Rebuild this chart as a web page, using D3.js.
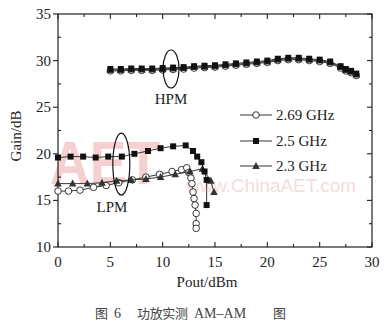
<!DOCTYPE html>
<html>
<head>
<meta charset="utf-8">
<script src="https://cdn.jsdelivr.net/npm/d3@7"></script>
<style>
  body { margin: 0; background: #fff; }
  svg { display: block; font-family: "Liberation Serif", "Times New Roman", serif; }
</style>
</head>
<body>
<svg id="chart" width="392" height="326"></svg>
<script>
// data
const xTicks = [0, 5, 10, 15, 20, 25, 30]
const yTicks = [10, 15, 20, 25, 30, 35]

// high power mode (HPM)
const hpmX = [5, 6, 7, 8, 9, 10, 11, 12, 13, 14, 15, 16, 17, 18, 19, 20, 21, 22, 23, 24, 25, 26, 27, 27.5, 28, 28.5]
const hpm269 = [28.9, 28.9, 28.95, 28.95, 28.95, 29.0, 29.05, 29.1, 29.2, 29.25, 29.3, 29.4, 29.5, 29.6, 29.7, 29.8, 30.0, 30.1, 30.1, 30.0, 29.9, 29.7, 29.2, 28.9, 28.7, 28.4]
const hpm25 = [29.1, 29.1, 29.15, 29.15, 29.15, 29.2, 29.25, 29.3, 29.4, 29.45, 29.5, 29.6, 29.7, 29.8, 29.9, 30.0, 30.2, 30.3, 30.3, 30.2, 30.1, 29.9, 29.4, 29.1, 28.9, 28.6]
const hpm23 = [29.0, 29.0, 29.05, 29.05, 29.05, 29.1, 29.15, 29.2, 29.3, 29.35, 29.4, 29.5, 29.6, 29.7, 29.8, 29.9, 30.1, 30.2, 30.2, 30.1, 30.0, 29.8, 29.3, 29.0, 28.8, 28.5]

// low power mode (LPM)
const lpm269X = [0, 1.0, 2.1, 3.4, 4.6, 5.8, 7.1, 8.4, 9.7, 10.9, 11.8, 12.3, 12.5, 12.7, 12.8, 12.9, 13.0, 13.1, 13.2, 13.2, 13.2]
const lpm269Y = [16.0, 16.0, 16.1, 16.4, 16.6, 16.9, 17.2, 17.5, 17.8, 18.1, 18.3, 18.5, 18.0, 17.4, 16.8, 15.9, 15.2, 14.5, 13.6, 12.5, 12.0]
const lpm25X = [0, 1.2, 2.4, 3.6, 4.8, 6.1, 7.3, 8.6, 9.8, 11.0, 12.2, 12.9, 13.3, 13.7, 14.0, 14.2, 14.2]
const lpm25Y = [19.6, 19.7, 19.7, 19.6, 19.7, 19.7, 20.0, 20.3, 20.6, 20.8, 20.9, 20.3, 19.7, 19.1, 18.1, 17.2, 14.5]
const lpm23X = [0, 1.4, 2.8, 4.2, 5.6, 7.0, 8.4, 9.8, 11.2, 12.6, 13.8, 14.6, 14.9]
const lpm23Y = [16.8, 16.8, 16.8, 16.9, 17.1, 17.2, 17.3, 17.5, 17.8, 18.1, 18.4, 17.1, 15.9]

const legendNames = ["2.69 GHz", "2.5 GHz", "2.3 GHz"]

const svg = d3.select("#chart")
const pLeft = 58, pRight = 372, pTop = 14, pBottom = 247

const x = d3.scaleLinear().domain([0, 30]).range([pLeft, pRight])
const y = d3.scaleLinear().domain([10, 35]).range([pBottom, pTop])

// watermark, faint
svg.append("text").attr("x", 50).attr("y", 184)
  .attr("font-family", "Liberation Sans").attr("font-weight", "bold").attr("font-size", 62)
  .attr("textLength", 110).attr("lengthAdjust", "spacingAndGlyphs")
  .attr("fill", "#f6d0d0").text("AET")
svg.append("text").attr("x", 186).attr("y", 192)
  .attr("font-family", "Liberation Sans").attr("font-size", 19)
  .attr("textLength", 170).attr("lengthAdjust", "spacingAndGlyphs")
  .attr("fill", "#f3dcdc").text("www.ChinaAET.com")

// frame
svg.append("rect").attr("x", pLeft).attr("y", pTop)
  .attr("width", pRight - pLeft).attr("height", pBottom - pTop)
  .attr("fill", "none").attr("stroke", "#222").attr("stroke-width", 1.2)

const minorX = d3.range(0, 30.1, 2.5)
const minorY = d3.range(10, 35.1, 2.5)
const ticks = svg.append("g").attr("stroke", "#222").attr("stroke-width", 1.1)

minorX.forEach(v => {
  const len = v % 5 === 0 ? 5 : 3
  ticks.append("line").attr("x1", x(v)).attr("x2", x(v)).attr("y1", pBottom).attr("y2", pBottom - len)
  ticks.append("line").attr("x1", x(v)).attr("x2", x(v)).attr("y1", pTop).attr("y2", pTop + len)
})
minorY.forEach(v => {
  const major = v % 5 === 0
  if (major) ticks.append("line").attr("x1", pLeft).attr("x2", pLeft - 5).attr("y1", y(v)).attr("y2", y(v))
  else ticks.append("line").attr("x1", pLeft).attr("x2", pLeft + 3).attr("y1", y(v)).attr("y2", y(v))
  ticks.append("line").attr("x1", pRight).attr("x2", pRight - (major ? 5 : 3)).attr("y1", y(v)).attr("y2", y(v))
})

// tick labels
svg.append("g").selectAll("text").data(xTicks).join("text")
  .attr("x", d => x(d)).attr("y", 267).attr("text-anchor", "middle")
  .attr("font-size", 15).attr("fill", "#222").text(d => d)
svg.append("g").selectAll("text").data(yTicks).join("text")
  .attr("x", 51).attr("y", d => y(d) + 5).attr("text-anchor", "end")
  .attr("font-size", 15).attr("fill", "#222").text(d => d)

// axis titles
svg.append("text").attr("transform", "translate(21,136) rotate(-90)")
  .attr("text-anchor", "middle").attr("font-size", 15).attr("fill", "#222").text("Gain/dB")
svg.append("text").attr("x", 207).attr("y", 287)
  .attr("text-anchor", "middle").attr("font-size", 15).attr("fill", "#222").text("Pout/dBm")

// caption
const cap = svg.append("g").attr("fill", "#444")
cap.append("text").attr("x", 95).attr("y", 318).attr("font-family", "Noto Sans CJK SC")
  .attr("font-size", 13).text("图")
cap.append("text").attr("x", 114).attr("y", 318).attr("font-size", 14).text("6")
cap.append("text").attr("x", 137).attr("y", 318).attr("font-family", "Noto Sans CJK SC")
  .attr("font-size", 13).attr("textLength", 51).text("功放实测")
cap.append("text").attr("x", 194).attr("y", 318).attr("font-size", 14).text("AM–AM")
cap.append("text").attr("x", 273).attr("y", 318).attr("font-family", "Noto Sans CJK SC")
  .attr("font-size", 13).text("图")

const line = d3.line().x(d => x(d[0])).y(d => y(d[1]))
const zip = (xs, ys) => xs.map((v, i) => [v, ys[i]])

function drawMarker(g, kind, cx, cy) {
  if (kind === "circle") {
    g.append("circle").attr("cx", cx).attr("cy", cy).attr("r", 3.3)
      .attr("fill", "#fff").attr("stroke", "#222").attr("stroke-width", 0.9)
  } else if (kind === "square") {
    g.append("rect").attr("x", cx - 3).attr("y", cy - 3).attr("width", 6).attr("height", 6).attr("fill", "#111")
  } else {
    g.append("path").attr("d", `M${cx},${cy - 4}L${cx + 3.8},${cy + 3}L${cx - 3.8},${cy + 3}Z`).attr("fill", "#333")
  }
}

function drawSeries(pts, kind) {
  const g = svg.append("g")
  g.append("path").datum(pts).attr("d", line)
    .attr("fill", "none").attr("stroke", "#222").attr("stroke-width", 0.9)
  pts.forEach(p => drawMarker(g, kind, x(p[0]), y(p[1])))
}

drawSeries(zip(hpmX, hpm269), "circle")
drawSeries(zip(hpmX, hpm23), "triangle")
drawSeries(zip(hpmX, hpm25), "square")
drawSeries(zip(lpm269X, lpm269Y), "circle")
drawSeries(zip(lpm23X, lpm23Y), "triangle")
drawSeries(zip(lpm25X, lpm25Y), "square")

// mode ellipses and labels
svg.append("ellipse").attr("cx", x(10.8)).attr("cy", y(29.1)).attr("rx", 8).attr("ry", 19)
  .attr("fill", "none").attr("stroke", "#111").attr("stroke-width", 1.2)
svg.append("text").attr("x", x(10.8)).attr("y", 104).attr("text-anchor", "middle")
  .attr("font-size", 15).attr("fill", "#222").text("HPM")
svg.append("ellipse").attr("cx", x(6.05)).attr("cy", y(18.9)).attr("rx", 8.5).attr("ry", 31)
  .attr("fill", "none").attr("stroke", "#111").attr("stroke-width", 1.2)
svg.append("text").attr("x", 112).attr("y", 212).attr("text-anchor", "middle")
  .attr("font-size", 15).attr("fill", "#222").text("LPM")

// legend
const kinds = ["circle", "square", "triangle"]
const rowsY = [115, 141, 166]
legendNames.forEach((name, i) => {
  const g = svg.append("g")
  g.append("line").attr("x1", 240).attr("x2", 272).attr("y1", rowsY[i]).attr("y2", rowsY[i])
    .attr("stroke", "#222").attr("stroke-width", 0.9)
  drawMarker(g, kinds[i], 256, rowsY[i])
  g.append("text").attr("x", 276).attr("y", rowsY[i] + 5)
    .attr("font-size", 15).attr("fill", "#222").text(name)
})
</script>
</body>
</html>
